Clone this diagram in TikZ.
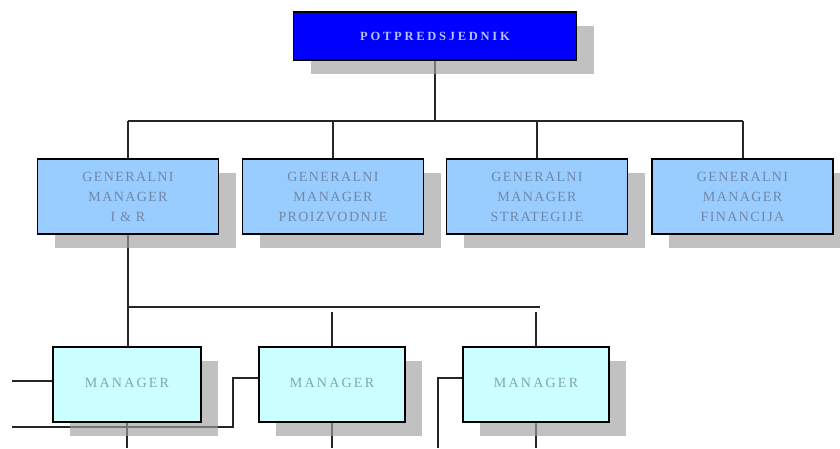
\documentclass[tikz,border=0pt]{standalone}
\usepackage{fontspec}
\setmainfont{Liberation Serif}
\usetikzlibrary{shadows,backgrounds}
\definecolor{vpblue}{HTML}{0000FF}
\definecolor{vptext}{HTML}{B8C0FF}
\definecolor{gmfill}{HTML}{99CCFF}
\definecolor{gmtext}{HTML}{7088A8}
\definecolor{mfill}{HTML}{CCFFFF}
\definecolor{mtext}{HTML}{80A8A8}
\definecolor{shadowgray}{HTML}{A0A0A0}
\tikzset{
  boxshadow/.style={drop shadow={shadow xshift=17pt, shadow yshift=-14pt, fill=shadowgray, opacity=0.65}},
  vpbox/.style={draw=black, line width=1.6pt, fill=vpblue, minimum width=283pt, minimum height=48pt,
    text=vptext, inner sep=0pt, boxshadow,
    font=\bfseries\fontsize{12.5}{13}\selectfont\addfontfeature{LetterSpace=22}},
  gmbox/.style={draw=black, line width=1.6pt, fill=gmfill, minimum width=181pt, minimum height=75pt,
    text=gmtext, inner sep=0pt, align=center, boxshadow,
    font=\fontsize{14}{20}\selectfont\addfontfeature{LetterSpace=10}},
  mbox/.style={draw=black, line width=1.6pt, fill=mfill, minimum width=146pt, minimum height=75pt,
    text=mtext, inner sep=0pt, boxshadow,
    font=\fontsize{14}{15}\selectfont\addfontfeature{LetterSpace=16}},
  link/.style={draw=black!85, line width=2pt}
}
\begin{document}
\begin{tikzpicture}[x=1pt,y=-1pt]
\useasboundingbox (0,0) rectangle (840,448);
\node[vpbox] (vp) at (435,36) {POTPREDSJEDNIK};
\node[gmbox] (g1) at (128,196.5) {GENERALNI\\MANAGER\\I \& R};
\node[gmbox] (g2) at (333,196.5) {GENERALNI\\MANAGER\\PROIZVODNJE};
\node[gmbox] (g3) at (537,196.5) {GENERALNI\\MANAGER\\STRATEGIJE};
\node[gmbox] (g4) at (742.5,196.5) {GENERALNI\\MANAGER\\FINANCIJA};
\node[mbox, minimum width=148pt] (m1) at (127,384.5) {\raisebox{3pt}{MANAGER}};
\node[mbox] (m2) at (332,384.5) {\raisebox{3pt}{MANAGER}};
\node[mbox] (m3) at (536,384.5) {\raisebox{3pt}{MANAGER}};
\coordinate (b1) at (0,121);
\coordinate (b2) at (0,307);
\coordinate (b2d) at (0,312);
\coordinate (b2e) at (540,307);
\coordinate (l1) at (12,381);
\coordinate (l2) at (12,427);
\coordinate (k2) at (233,378);
\coordinate (l3) at (438,448);
\coordinate (k3) at (438,378);
\coordinate (bot) at (0,448);
\begin{scope}[on background layer]
\fill[white] (0,0) rectangle (840,448);
\draw[link] (vp.south) -- (vp.south |- b1);
\draw[link] (g1.north |- b1) -- (g4.north |- b1);
\draw[link] (g1.north |- b1) -- (g1.north);
\draw[link] (g2.north |- b1) -- (g2.north);
\draw[link] (g3.north |- b1) -- (g3.north);
\draw[link] (g4.north |- b1) -- (g4.north);
\draw[link] (g1.south) -- (g1.south |- m1.north);
\draw[link] (g1.south |- b2) -- (b2e);
\draw[link] (m2.north |- b2d) -- (m2.north);
\draw[link] (m3.north |- b2d) -- (m3.north);
\draw[link] (l1) -- (l1 -| m1.west);
\draw[link] (l2) -- (l2 -| k2) -- (k2) -- (k2 -| m2.west);
\draw[link] (l3) -- (k3) -- (k3 -| m3.west);
\draw[link] (m1.south) -- (m1.south |- bot);
\draw[link] (m2.south) -- (m2.south |- bot);
\draw[link] (m3.south) -- (m3.south |- bot);
\end{scope}
\end{tikzpicture}
\end{document}
